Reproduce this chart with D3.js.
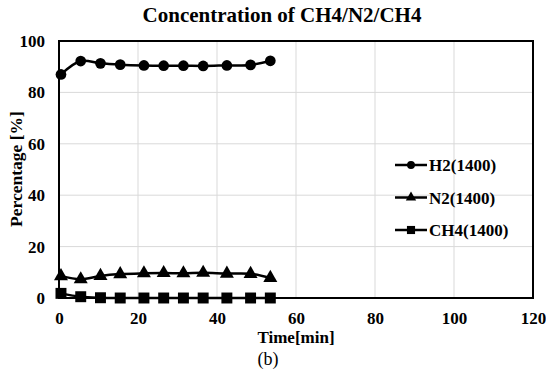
<!DOCTYPE html>
<html>
<head>
<meta charset="utf-8">
<script src="https://cdn.jsdelivr.net/npm/d3@7"></script>
<style>
  body { margin: 0; background: #fff; }
  svg text { font-family: "Liberation Serif", "DejaVu Serif", serif; }
</style>
</head>
<body>
<div id="chart"></div>
<script>
// Sample times [min] and gas concentrations [%]
const times = [0.5, 5.5, 10.5, 15.5, 21.5, 26.5, 31.5, 36.5, 42.5, 48.5, 53.5];
const h2 = [87.0, 92.2, 91.3, 90.8, 90.5, 90.4, 90.4, 90.3, 90.5, 90.7, 92.3];
const n2 = [8.5, 7.3, 8.6, 9.3, 9.6, 9.7, 9.6, 9.8, 9.5, 9.4, 7.8];
const ch4 = [1.8, 0.5, 0.1, 0.0, 0.0, 0.0, 0.0, 0.0, 0.0, 0.0, 0.0];
const seriesNames = ['H2(1400)', 'N2(1400)', 'CH4(1400)'];
const xTicks = [0, 20, 40, 60, 80, 100, 120];
const yTicks = [0, 20, 40, 60, 80, 100];

const W = 546, H = 376;
const margin = { top: 41, right: 13, bottom: 78, left: 59 };
const width = W - margin.left - margin.right;
const height = H - margin.top - margin.bottom;

const svg = d3.select('#chart').append('svg')
  .attr('width', W)
  .attr('height', H);

const g = svg.append('g')
  .attr('transform', `translate(${margin.left},${margin.top})`);

const x = d3.scaleLinear().domain([0, 120]).range([0, width]);
const y = d3.scaleLinear().domain([0, 100]).range([height, 0]);

// gridlines
g.selectAll('.vgrid')
  .data(xTicks.slice(1, -1))
  .enter().append('line')
  .attr('x1', d => x(d)).attr('x2', d => x(d))
  .attr('y1', 0).attr('y2', height)
  .attr('stroke', '#d9d9d9').attr('stroke-width', 1);

g.selectAll('.hgrid')
  .data(yTicks.slice(1, -1))
  .enter().append('line')
  .attr('x1', 0).attr('x2', width)
  .attr('y1', d => y(d)).attr('y2', d => y(d))
  .attr('stroke', '#d9d9d9').attr('stroke-width', 1);

// frame
g.append('rect')
  .attr('x', 0).attr('y', 0)
  .attr('width', width).attr('height', height)
  .attr('fill', 'none')
  .attr('stroke', '#000')
  .attr('stroke-width', 2);

// axes
const xAxis = g.append('g')
  .attr('transform', `translate(0,${height})`)
  .call(d3.axisBottom(x).tickValues(xTicks).tickSize(0).tickPadding(14));
const yAxis = g.append('g')
  .call(d3.axisLeft(y).tickValues(yTicks).tickSize(0).tickPadding(14));
[xAxis, yAxis].forEach(a => {
  a.select('.domain').remove();
  a.attr('font-family', null).attr('font-size', null);
  a.selectAll('text')
    .attr('font-weight', 'bold')
    .attr('font-size', 17)
    .attr('fill', '#000');
});

// series
const series = [
  { name: seriesNames[0], values: h2, shape: d3.symbolCircle, size: 90 },
  { name: seriesNames[1], values: n2, shape: d3.symbolTriangle, size: 85 },
  { name: seriesNames[2], values: ch4, shape: d3.symbolSquare, size: 120 }
];

const line = d3.line()
  .x(d => x(d[0]))
  .y(d => y(d[1]))
  .curve(d3.curveCatmullRom.alpha(0.5));

series.forEach(s => {
  const pts = times.map((t, i) => [t, s.values[i]]);
  g.append('path')
    .datum(pts)
    .attr('d', line)
    .attr('fill', 'none')
    .attr('stroke', '#000')
    .attr('stroke-width', 2.5);
  g.selectAll(null)
    .data(pts)
    .enter().append('path')
    .attr('d', d3.symbol().type(s.shape).size(s.size))
    .attr('transform', d => `translate(${x(d[0])},${y(d[1])})`)
    .attr('fill', '#000');
});

// legend
const legend = svg.append('g').attr('transform', 'translate(395,165)');
series.forEach((s, i) => {
  const row = legend.append('g').attr('transform', `translate(0,${i * 32.5})`);
  row.append('line')
    .attr('x1', 0).attr('x2', 32)
    .attr('stroke', '#000').attr('stroke-width', 2.5);
  row.append('path')
    .attr('d', d3.symbol().type(s.shape).size(s.size * 0.55))
    .attr('transform', 'translate(16,0)')
    .attr('fill', '#000');
  row.append('text')
    .attr('x', 34).attr('y', 6)
    .attr('font-weight', 'bold')
    .attr('font-size', 17)
    .text(s.name);
});

// titles
svg.append('text')
  .attr('x', 282).attr('y', 22)
  .attr('text-anchor', 'middle')
  .attr('font-weight', 'bold')
  .attr('font-size', 21)
  .text('Concentration of CH4/N2/CH4');

svg.append('text')
  .attr('x', 296).attr('y', 343)
  .attr('text-anchor', 'middle')
  .attr('font-weight', 'bold')
  .attr('font-size', 17)
  .text('Time[min]');

svg.append('text')
  .attr('transform', 'translate(22,169) rotate(-90)')
  .attr('text-anchor', 'middle')
  .attr('font-weight', 'bold')
  .attr('font-size', 17.5)
  .text('Percentage [%]');

svg.append('text')
  .attr('x', 268).attr('y', 365)
  .attr('text-anchor', 'middle')
  .attr('font-size', 18)
  .text('(b)');
</script>
</body>
</html>
